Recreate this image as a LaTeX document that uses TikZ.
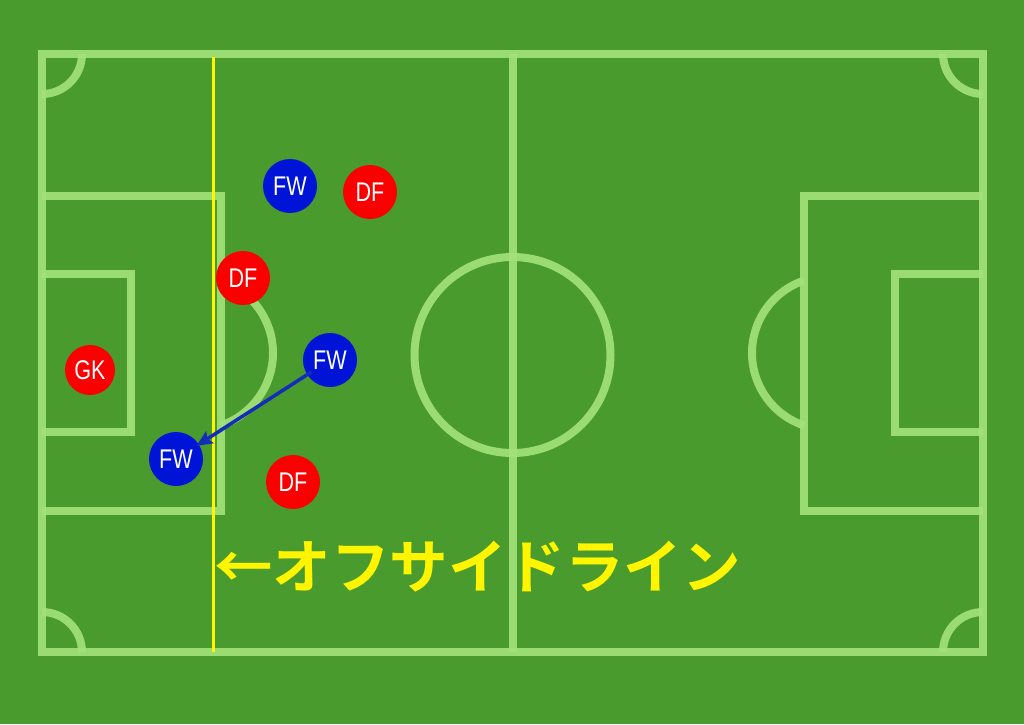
\documentclass[tikz,border=0pt]{standalone}
\usepackage{fontspec}
\usetikzlibrary{arrows.meta}
\newfontfamily\jpfont{Noto Sans CJK JP Bold}
\newfontfamily\plfont[FakeStretch=0.8]{Liberation Sans}
\definecolor{grass}{RGB}{74,155,45}
\definecolor{fline}{RGB}{163,226,122}
\definecolor{fwblue}{RGB}{0,20,215}
\definecolor{dfred}{RGB}{250,0,0}
\definecolor{arrowblue}{RGB}{20,45,185}
\definecolor{offyellow}{RGB}{255,245,0}
\tikzset{
  fieldline/.style={draw=fline, line width=8pt, opacity=0.9},
  player/.style={circle, minimum size=54pt, inner sep=0pt, text=white, font=\plfont\fontsize{27}{27}\selectfont},
  fwplayer/.style={player, fill=fwblue},
  dfplayer/.style={player, fill=dfred},
  offline/.style={draw=offyellow, line width=3pt},
  runarrow/.style={draw=arrowblue, line width=3.5pt, -{Stealth[length=16pt,width=14pt,inset=3pt]}, shorten <=-5pt, shorten >=-3pt}
}
\begin{document}
\begin{tikzpicture}[x=1pt,y=-1pt]
\fill[grass] (0,0) rectangle (1024,724);
\useasboundingbox (0,0) rectangle (1024,724);
% outer boundary and halfway line
\draw[fieldline] (42,54) rectangle (983,652);
\draw[fieldline] (512.5,54) -- (512.5,652);
\draw[fieldline] (512.5,355) circle[radius=98];
% left penalty area and goal area
\draw[fieldline] (42,196) -| (221,511) -- (42,511);
\draw[fieldline] (42,274) -| (131,432) -- (42,432);
\draw[fieldline] (196.5,353) ++(-71.3:76.5) arc[start angle=-71.3, end angle=71.3, radius=76.5];
% right penalty area and goal area
\draw[fieldline] (983,196) -| (804,511) -- (983,511);
\draw[fieldline] (983,274) -| (895,432) -- (983,432);
\draw[fieldline] (828.5,353) ++(108.7:76.5) arc[start angle=108.7, end angle=251.3, radius=76.5];
% corner arcs
\draw[fieldline] (82,54) arc[start angle=0, end angle=90, radius=40];
\draw[fieldline] (943,54) arc[start angle=180, end angle=90, radius=40];
\draw[fieldline] (82,652) arc[start angle=0, end angle=-90, radius=40];
\draw[fieldline] (943,652) arc[start angle=180, end angle=270, radius=40];
% offside line
\coordinate (offtop) at (213,57);
\coordinate (offbot) at (213,652);
\draw[offline] (offtop) -- (offbot);
% players
\node[fwplayer] (fw1) at (290,186) {FW};
\node[dfplayer] (df1) at (370,192) {DF};
\node[dfplayer] (df2) at (243,278) {DF};
\node[fwplayer] (fw2) at (330,360) {FW};
\node[dfplayer, minimum size=50pt] (gk) at (90,370) {GK};
\node[fwplayer] (fw3) at (176,459) {FW};
\node[dfplayer] (df3) at (293,482) {DF};
% run arrow
\draw[runarrow] (fw2) -- (fw3);
% label
\node[anchor=base west, inner sep=0pt, text=offyellow, font=\jpfont\fontsize{58.5}{58.5}\selectfont] (label) at (214,588) {←オフサイドライン};
\end{tikzpicture}
\end{document}
